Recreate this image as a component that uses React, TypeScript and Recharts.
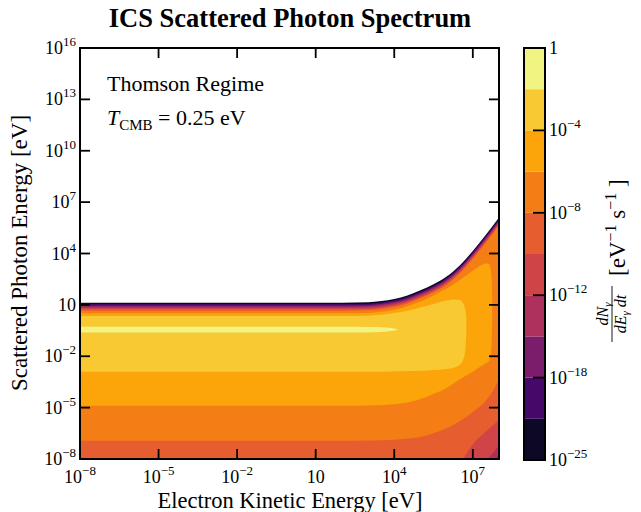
import { ComposedChart, Area, XAxis, YAxis, BarChart, Bar } from 'recharts';

const FONT = '"Liberation Serif", "DejaVu Serif", serif';
const TICK_LEN = 10;

// axes are log10 of the energies
const X_MIN = -8;
const X_MAX = 8;
const Y_MIN = -8;
const Y_MAX = 16;
const X_TICKS = [-8, -5, -2, 1, 4, 7];
const Y_TICKS = [-8, -5, -2, 1, 4, 7, 10, 13, 16];

// inferno bands, lowest contour level first
const LEVEL_COLORS = ['#0c0826', '#450a69', '#7c1d6c', '#ad305d', '#cf4446', '#e65d2f', '#f57d15', '#fca50a', '#f8c932', '#f2f482'];
const CBAR_TICKS = [0, 2, 4, 6, 8, 10];
const CBAR_EXP = [-25, -18, -12, -8, -4, 0];

// upper edges of the thin bands along the cutoff (log10 E vs log10 T)
const T_EDGE = [-8, 2, 3, 3.5, 4, 4.5, 5, 5.5, 6, 6.5, 7, 7.5, 8];
const L0_HI = [1.13, 1.13, 1.15, 1.22, 1.35, 1.55, 1.85, 2.2, 2.65, 3.3, 4.15, 5.1, 6.1];
const L1_HI = [1.05, 1.05, 1.07, 1.14, 1.27, 1.47, 1.77, 2.12, 2.57, 3.22, 4.07, 5.02, 6.02];
const L2_HI = [0.97, 0.97, 0.99, 1.06, 1.19, 1.39, 1.69, 2.04, 2.49, 3.14, 3.99, 4.94, 5.94];
const L3_HI = [0.9, 0.9, 0.92, 0.99, 1.12, 1.32, 1.62, 1.97, 2.42, 3.07, 3.92, 4.87, 5.87];
const L4_HI = [0.82, 0.82, 0.84, 0.91, 1.04, 1.24, 1.54, 1.89, 2.34, 2.99, 3.84, 4.79, 5.79];
const L5_HI = [0.74, 0.74, 0.76, 0.83, 0.96, 1.16, 1.46, 1.81, 2.26, 2.91, 3.76, 4.71, 5.71];
const L6_HI = [0.66, 0.66, 0.68, 0.75, 0.88, 1.08, 1.38, 1.73, 2.18, 2.83, 3.68, 4.63, 5.63];
const L6_LO = [-6.93, -6.93, -6.92, -6.9, -6.88, -6.82, -6.72, -6.5, -6.2, -5.8, -5.25, -4.6, -3.4];

const T_L7 = [-8, 2, 3, 3.5, 4, 4.5, 5, 5.5, 6, 6.5, 7, 7.3, 7.5, 7.6, 7.68, 7.72, 7.74];
const L7_HI = [0.51, 0.51, 0.53, 0.6, 0.72, 0.92, 1.2, 1.55, 1.95, 2.45, 3.0, 3.3, 3.42, 3.4, 3.1, 2.5, 1.5];
const L7_LO = [-4.89, -4.89, -4.88, -4.85, -4.8, -4.7, -4.5, -4.2, -3.85, -3.35, -2.9, -2.6, -2.4, -2.3, -2.0, -1.2, 0];

const T_L8 = [-8, 2, 3, 3.5, 4, 4.5, 5, 5.5, 6, 6.3, 6.5, 6.62, 6.7, 6.75];
const L8_HI = [0.35, 0.35, 0.37, 0.42, 0.52, 0.66, 0.85, 1.05, 1.25, 1.32, 1.28, 1.1, 0.8, 0.3];
const L8_LO = [-2.9, -2.9, -2.9, -2.9, -2.88, -2.86, -2.84, -2.8, -2.74, -2.65, -2.5, -2.25, -1.8, -0.8];

const T_L9 = [-8, 2, 3, 3.5, 3.8, 4.0, 4.14];
const L9_HI = [-0.28, -0.28, -0.29, -0.31, -0.34, -0.38, -0.44];
const L9_LO = [-0.62, -0.62, -0.61, -0.58, -0.54, -0.5, -0.45];

// lower edges that come in at the bottom-right corner
const T_L5_LO = [6.62, 7, 7.5, 8];
const L5_LO = [-8, -7.15, -6.4, -5.72];
const T_L4_LO = [7.55, 7.8, 8];
const L4_LO = [-8, -7.6, -7.2];
const T_L3_LO = [7.88, 8];
const L3_LO = [-8, -7.75];

const band = (t: number[], lo: number[] | number, hi: number[] | number) =>
  t.map((x, i) => ({
    x,
    v: [Array.isArray(lo) ? lo[i] : lo, Array.isArray(hi) ? hi[i] : hi],
  }));

// painted in order, each region drawn over the previous one
const BANDS = [
  { fill: LEVEL_COLORS[0], data: band(T_EDGE, Y_MIN, L0_HI) },
  { fill: LEVEL_COLORS[1], data: band(T_EDGE, Y_MIN, L1_HI) },
  { fill: LEVEL_COLORS[2], data: band(T_EDGE, Y_MIN, L2_HI) },
  { fill: LEVEL_COLORS[3], data: band(T_EDGE, Y_MIN, L3_HI) },
  { fill: LEVEL_COLORS[4], data: band(T_EDGE, Y_MIN, L4_HI) },
  { fill: LEVEL_COLORS[5], data: band(T_EDGE, Y_MIN, L5_HI) },
  { fill: LEVEL_COLORS[6], data: band(T_EDGE, L6_LO, L6_HI) },
  { fill: LEVEL_COLORS[7], data: band(T_L7, L7_LO, L7_HI) },
  { fill: LEVEL_COLORS[8], data: band(T_L8, L8_LO, L8_HI) },
  { fill: LEVEL_COLORS[9], data: band(T_L9, L9_LO, L9_HI) },
  { fill: LEVEL_COLORS[4], data: band(T_L5_LO, Y_MIN, L5_LO) },
  { fill: LEVEL_COLORS[3], data: band(T_L4_LO, Y_MIN, L4_LO) },
  { fill: LEVEL_COLORS[2], data: band(T_L3_LO, Y_MIN, L3_LO) },
];

const CBAR_ROW = [
  LEVEL_COLORS.reduce((row: any, _c, i) => ({ ...row, [`b${i}`]: 1 }), { name: 'cb' }),
];

const AXIS_LINE = { stroke: '#000', strokeWidth: 2, strokeLinecap: 'square' as const };

function PowTen({ x, y, exp, anchor }: { x: number; y: number; exp: number; anchor: string }) {
  return (
    <text x={x} y={y} textAnchor={anchor as any} fontFamily={FONT} fontSize={18} fill="#000">
      {exp === 0 ? '1' : '10'}
      {exp !== 0 && exp !== 1 && (
        <tspan dy={-8} fontSize={13}>
          {exp < 0 ? `\u2212${-exp}` : `${exp}`}
        </tspan>
      )}
    </text>
  );
}

const BottomTick = (props: any) => {
  const { x, y, payload } = props;
  return (
    <g>
      <line x1={x} x2={x} y1={y} y2={y - TICK_LEN} stroke="#000" strokeWidth={1.8} />
      <PowTen x={x} y={y + 24} exp={payload.value} anchor="middle" />
    </g>
  );
};

const TopTick = (props: any) => {
  const { x, y } = props;
  return <line x1={x} x2={x} y1={y} y2={y + TICK_LEN} stroke="#000" strokeWidth={1.8} />;
};

const LeftTick = (props: any) => {
  const { x, y, payload } = props;
  return (
    <g>
      <line x1={x} x2={x + TICK_LEN} y1={y} y2={y} stroke="#000" strokeWidth={1.8} />
      <PowTen x={x - 4} y={y + 6} exp={payload.value} anchor="end" />
    </g>
  );
};

const RightTick = (props: any) => {
  const { x, y } = props;
  return <line x1={x} x2={x - TICK_LEN} y1={y} y2={y} stroke="#000" strokeWidth={1.8} />;
};

const CbarTick = (props: any) => {
  const { x, y, payload, index } = props;
  const inner = payload.value !== 0 && payload.value !== 10;
  return (
    <g>
      {inner && <line x1={x - 12} x2={x} y1={y} y2={y} stroke="#000" strokeWidth={1.8} />}
      <PowTen x={x + 4} y={y + 6} exp={CBAR_EXP[index]} anchor="start" />
    </g>
  );
};

export default function App() {
  return (
    <div style={{ position: 'absolute', left: 0, top: 0, width: 641, height: 512, background: '#fff' }}>
      <div style={{ position: 'absolute', left: 0, top: 0 }}>
        <ComposedChart width={520} height={512} margin={{ top: 0, right: 20, bottom: 0, left: 0 }}>
          {BANDS.map((b, i) => (
            <Area
              key={i}
              data={b.data}
              dataKey="v"
              xAxisId="b"
              yAxisId="l"
              type="monotone"
              fill={b.fill}
              fillOpacity={1}
              stroke="none"
              dot={false}
              activeDot={false}
              isAnimationActive={false}
            />
          ))}
          <XAxis xAxisId="b" dataKey="x" type="number" domain={[X_MIN, X_MAX]} allowDataOverflow
            ticks={X_TICKS} interval={0} height={53} tickSize={0} tickMargin={0} tickLine={false}
            tick={<BottomTick />} axisLine={AXIS_LINE} />
          <XAxis xAxisId="t" orientation="top" dataKey="x" type="number" domain={[X_MIN, X_MAX]} allowDataOverflow
            ticks={X_TICKS} interval={0} height={48} tickSize={0} tickMargin={0} tickLine={false}
            tick={<TopTick />} axisLine={AXIS_LINE} />
          <YAxis yAxisId="l" type="number" domain={[Y_MIN, Y_MAX]} allowDataOverflow
            ticks={Y_TICKS} interval={0} width={80} tickSize={0} tickMargin={0} tickLine={false}
            tick={<LeftTick />} axisLine={AXIS_LINE} />
          <YAxis yAxisId="r" orientation="right" type="number" domain={[Y_MIN, Y_MAX]} allowDataOverflow
            ticks={Y_TICKS} interval={0} width={1} tickSize={0} tickMargin={0} tickLine={false}
            tick={<RightTick />} axisLine={AXIS_LINE} />
        </ComposedChart>
      </div>

      <div style={{ position: 'absolute', left: 524, top: 0 }}>
        <BarChart width={117} height={512} data={CBAR_ROW} margin={{ top: 48, right: 0, bottom: 52, left: 0 }}
          barCategoryGap={0}>
          <XAxis dataKey="name" hide />
          <YAxis orientation="right" type="number" domain={[0, 10]} ticks={CBAR_TICKS} interval={0}
            width={96} tickSize={0} tickMargin={0} tickLine={false} axisLine={false} tick={<CbarTick />} />
          {LEVEL_COLORS.map((c, i) => (
            <Bar key={i} dataKey={`b${i}`} stackId="cb" fill={c} isAnimationActive={false} />
          ))}
        </BarChart>
      </div>

      <svg width={641} height={512} style={{ position: 'absolute', left: 0, top: 0, pointerEvents: 'none' }}
        fontFamily={FONT} fill="#000">
        <rect x={524} y={48} width={21} height={412} fill="none" stroke="#000" strokeWidth={2} />
        <text x={290} y={27} textAnchor="middle" fontSize={26.5} fontWeight="bold">
          ICS Scattered Photon Spectrum
        </text>
        <text x={290} y={508} textAnchor="middle" fontSize={22.5}>
          Electron Kinetic Energy [eV]
        </text>
        <text transform="translate(27, 253) rotate(-90)" textAnchor="middle" fontSize={23}>
          Scattered Photon Energy [eV]
        </text>
        <text x={107} y={91} fontSize={22}>Thomson Regime</text>
        <text x={107} y={125} fontSize={22}>
          <tspan fontStyle="italic">T</tspan>
          <tspan fontSize={15} dy={5}>CMB</tspan>
          <tspan dy={-5}> = 0.25 eV</tspan>
        </text>
        <g transform="translate(625, 256) rotate(-90)">
          <text x={-58} y={-17} textAnchor="middle" fontSize={16} fontStyle="italic">
            dN<tspan fontSize={11} dy={3}>γ</tspan>
          </text>
          <line x1={-86} x2={-30} y1={-13} y2={-13} stroke="#000" strokeWidth={0.9} />
          <text x={-58} y={1} textAnchor="middle" fontSize={16} fontStyle="italic">
            dE<tspan fontSize={11} dy={3}>γ</tspan>
            <tspan dy={-3}> dt</tspan>
          </text>
          <text x={-20} y={0} fontSize={23}>
            [eV<tspan dy={-9} fontSize={16}>{'\u22121'}</tspan>
            <tspan dy={9}> s</tspan>
            <tspan dy={-9} fontSize={16}>{'\u22121'}</tspan>
            <tspan dy={9}> ]</tspan>
          </text>
        </g>
      </svg>
    </div>
  );
}
